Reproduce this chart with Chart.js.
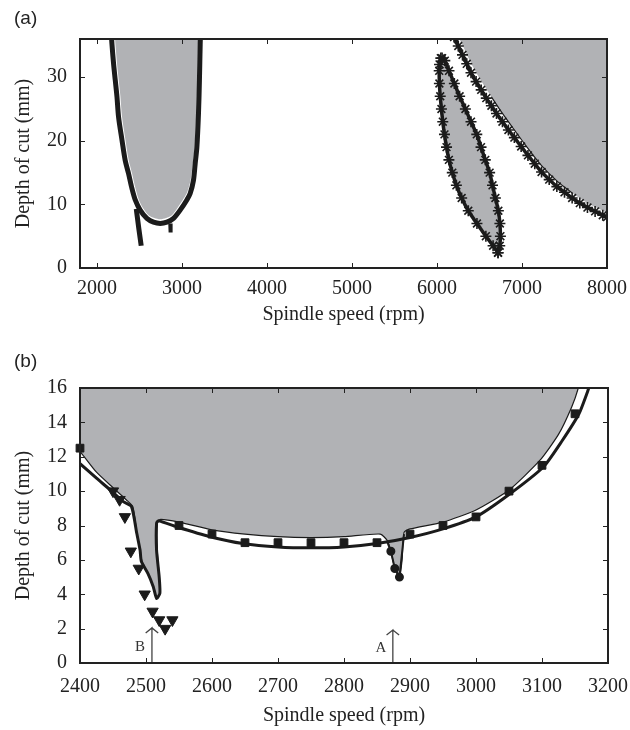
<!DOCTYPE html>
<html>
<head>
<meta charset="utf-8">
<script src="https://cdn.jsdelivr.net/npm/chart.js@4.4.1/dist/chart.umd.min.js"></script>
<style>
  body { margin: 0; background: #fff; }
  #wrap { position: relative; width: 630px; height: 730px; }
  canvas { position: absolute; left: 0; }
  #chartA { top: 0; }
  #chartB { top: 330px; }
  .tag { position: absolute; left: 14px; font: 19px 'Liberation Sans', Arial, sans-serif; line-height: 19px; color: #222; }
</style>
</head>
<body>
<div id="wrap">
  <canvas id="chartA" width="630" height="330"></canvas>
  <canvas id="chartB" width="630" height="400"></canvas>
  <div class="tag" style="top:8px">(a)</div>
  <div class="tag" style="top:351px">(b)</div>
</div>
<script>
// ---- panel (a): whole speed range ----
const aXTicks = [2000, 3000, 4000, 5000, 6000, 7000, 8000];
const aYTicks = [0, 10, 20, 30];

// left lobe, black boundary
const lobeLineX = [2168, 2176, 2195, 2215, 2235, 2254, 2294, 2332, 2371, 2411, 2450, 2508, 2587, 2665, 2744, 2822, 2900, 2978, 3057, 3096, 3135, 3155, 3175, 3194, 3205, 3214, 3218];
const lobeLineY = [37, 35.2, 32.1, 29.5, 26.9, 23.7, 20.1, 16.9, 14.85, 12.5, 10.7, 9.1, 7.8, 7.2, 7.0, 7.2, 7.8, 9.1, 10.7, 11.7, 13.8, 16.4, 19.0, 24.3, 29.5, 35.2, 37];
// left lobe, grey (unstable) region
const lobeFillX = [2208, 2216, 2235, 2255, 2275, 2294, 2334, 2372, 2411, 2451, 2489, 2545, 2610, 2674, 2744, 2813, 2877, 2946, 3023, 3062, 3100, 3127, 3148, 3168, 3180, 3188, 3190];
const lobeFillY = [37, 35.3, 32.2, 29.6, 27.0, 23.8, 20.2, 17.0, 14.95, 12.6, 10.85, 9.34, 8.26, 7.85, 7.65, 7.85, 8.26, 9.44, 11.0, 11.96, 13.8, 16.4, 19.0, 24.3, 29.5, 35.2, 37];
// short tails under the lobe
const tailLeftX = [2462, 2492, 2520];
const tailLeftY = [9.3, 6.2, 3.5];
const tailRightX = [2862, 2866];
const tailRightY = [7.0, 5.6];

// narrow lens lobe near 6000-6750 rpm
const lensLeftX = [6045, 6030, 6026, 6028, 6038, 6052, 6068, 6088, 6112, 6140, 6180, 6228, 6290, 6368, 6470, 6575, 6660, 6718];
const lensLeftY = [33, 32, 31, 29, 27, 25, 23, 21, 19, 17, 15, 13, 11, 9, 7, 5, 3.5, 2.4];
const lensRightX = [6718, 6738, 6746, 6740, 6722, 6687, 6653, 6619, 6568, 6518, 6468, 6400, 6334, 6266, 6204, 6141, 6092, 6060];
const lensRightY = [2.4, 3.5, 5, 7, 9, 11, 13, 15, 17, 19, 21, 23, 25, 27, 29, 31, 32.6, 33];

// big region at high speed
const farLineX = [6200, 6250, 6300, 6350, 6400, 6460, 6520, 6580, 6640, 6700, 6770, 6840, 6910, 6990, 7070, 7150, 7230, 7320, 7410, 7500, 7590, 7680, 7770, 7860, 7950, 8000];
const farLineY = [36.3, 34.9, 33.5, 32.1, 30.7, 29.3, 28.0, 26.7, 25.5, 24.3, 23.0, 21.7, 20.5, 19.1, 17.7, 16.4, 15.1, 13.9, 12.8, 11.9, 11.0, 10.2, 9.5, 8.9, 8.3, 8.0];
const farFillX = [6230, 6300, 6400, 6520, 6640, 6770, 6910, 7070, 7230, 7410, 7590, 7770, 7950, 8000, 8100, 8100, 6230];
const farFillY = [37, 35.0, 32.2, 29.4, 26.9, 24.3, 21.7, 18.8, 16.1, 13.7, 11.8, 10.2, 9.0, 8.7, 8.6, 40, 40];
// thin second boundary along the grey edge
const farEdgeX = [6640, 6770, 6910, 7070, 7230, 7410, 7590];
const farEdgeY = [26.9, 24.3, 21.7, 18.8, 16.1, 13.7, 11.8];

// ---- panel (b): zoom on the first lobe ----
const bXTicks = [2400, 2500, 2600, 2700, 2800, 2900, 3000, 3100, 3200];
const bYTicks = [0, 2, 4, 6, 8, 10, 12, 14, 16];

const zoneX = [2380, 2400, 2425, 2450, 2470, 2480, 2486, 2491, 2494, 2503, 2511, 2516, 2521, 2520, 2517, 2517, 2521, 2550, 2600, 2650, 2700, 2750, 2800, 2855, 2866, 2871, 2877, 2884, 2888, 2891, 2900, 2950, 3000, 3050, 3097, 3125, 3145, 3155, 3162, 3165, 2380];
const zoneY = [13.0, 12.3, 11.1, 10.2, 9.5, 9.1, 7.6, 6.6, 5.9, 5.2, 4.4, 3.8, 4.05, 5.0, 6.6, 8.1, 8.35, 8.2, 7.75, 7.5, 7.35, 7.3, 7.35, 7.5, 7.1, 6.5, 5.5, 5.0, 6.0, 7.6, 7.8, 8.2, 8.9, 10.06, 11.8, 13.3, 14.9, 16.0, 17.2, 18, 18];

const edgeX = [2400, 2425, 2448, 2465, 2478, 2486, 2491, 2493, 2503, 2511, 2516, 2521, 2520, 2516, 2516, 2519, 2546, 2597, 2647, 2700, 2750, 2800, 2850, 2900, 2950, 3000, 3049, 3102, 3130, 3156, 3171, 3178];
const edgeY = [11.6, 10.75, 10.0, 9.4, 9.1, 7.55, 6.57, 5.9, 5.2, 4.44, 3.76, 4.05, 5.0, 6.57, 8.13, 8.28, 7.93, 7.35, 6.95, 6.75, 6.7, 6.75, 6.95, 7.3, 7.8, 8.5, 9.77, 11.4, 12.9, 14.5, 16.0, 16.8];

const squareX = [2400, 2550, 2600, 2650, 2700, 2750, 2800, 2850, 2900, 2950, 3000, 3050, 3100, 3150];
const squareY = [12.5, 8.0, 7.5, 7.0, 7.0, 7.0, 7.0, 7.0, 7.5, 8.0, 8.5, 10.0, 11.5, 14.5];

const triangleX = [2450, 2460, 2468, 2477, 2489, 2498, 2510, 2520, 2529, 2540];
const triangleY = [10.0, 9.5, 8.5, 6.5, 5.5, 4.0, 3.0, 2.5, 2.0, 2.5];

const circleX = [2866, 2871, 2877, 2884, 2891];
const circleY = [7.0, 6.5, 5.5, 5.0, 7.5];
const circleSize = [0, 3.5, 3.5, 3.5, 0];

// arrows marking the test speeds
const arrowBX = [2509, 2509, 2499.5, 2509, 2518.5];
const arrowBY = [0, 2.04, 1.75, 2.04, 1.75];
const arrowAX = [2874, 2874, 2864.5, 2874, 2883.5];
const arrowAY = [0, 1.92, 1.63, 1.92, 1.63];
const arrowTags = ['A', 'B'];
const arrowTagX = [2856, 2491];
const arrowTagY = [0.86, 0.95];

const BLACK = '#1b1b1b';
const GREY = '#b1b2b5';
const SERIF = "'Liberation Serif', 'Times New Roman', serif";

Chart.defaults.font.family = SERIF;
Chart.defaults.color = '#222';

function pts(xs, ys) {
  return xs.map((x, i) => ({ x: x, y: ys[i] }));
}

function curve(xs, ys, width, extra) {
  return Object.assign({
    data: pts(xs, ys), borderColor: BLACK, borderWidth: width,
    pointRadius: 0, tension: 0.3, fill: false, clip: 0, order: 1
  }, extra || {});
}

function region(xs, ys, extra) {
  return Object.assign({
    data: pts(xs, ys), backgroundColor: GREY, borderColor: 'rgba(0,0,0,0)', borderWidth: 0,
    pointRadius: 0, tension: 0.3, fill: 'shape', clip: 0, order: 5
  }, extra || {});
}

const starred = {
  pointStyle: 'star', pointRadius: 5.5, pointBorderWidth: 1.6,
  pointBorderColor: BLACK, pointBackgroundColor: BLACK
};

// box round the plot with ticks pointing inwards on all four sides
const frame = {
  id: 'frame',
  afterDraw(chart) {
    const { ctx, chartArea: a, scales: { x, y } } = chart;
    ctx.save();
    ctx.strokeStyle = '#222';
    ctx.lineWidth = 1;
    ctx.beginPath();
    x.ticks.forEach(t => {
      const px = Math.round(x.getPixelForValue(t.value)) + 0.5;
      ctx.moveTo(px, a.bottom); ctx.lineTo(px, a.bottom - 5);
      ctx.moveTo(px, a.top); ctx.lineTo(px, a.top + 5);
    });
    y.ticks.forEach(t => {
      const py = Math.round(y.getPixelForValue(t.value)) + 0.5;
      ctx.moveTo(a.left, py); ctx.lineTo(a.left + 5, py);
      ctx.moveTo(a.right, py); ctx.lineTo(a.right - 5, py);
    });
    ctx.stroke();
    ctx.lineWidth = 2;
    ctx.strokeRect(a.left, a.top, a.right - a.left, a.bottom - a.top);
    ctx.restore();
  }
};

const tags = {
  id: 'tags',
  afterDatasetsDraw(chart) {
    const { ctx, scales: { x, y } } = chart;
    ctx.save();
    ctx.font = '15px ' + SERIF;
    ctx.fillStyle = '#333';
    ctx.textAlign = 'center';
    ctx.textBaseline = 'middle';
    arrowTags.forEach((t, i) => {
      ctx.fillText(t, x.getPixelForValue(arrowTagX[i]), y.getPixelForValue(arrowTagY[i]));
    });
    ctx.restore();
  }
};

function axes(xMin, xMax, xTicks, yMax, yTicks, xPad, titlePad, xHeight) {
  return {
    x: {
      type: 'linear', min: xMin, max: xMax,
      afterBuildTicks: s => { s.ticks = xTicks.map(v => ({ value: v })); },
      // fixed height, and let the end labels hang over the side padding
      afterFit: s => { s.height = xHeight; s.paddingLeft = 0; s.paddingRight = 0; },
      grid: { display: false, drawTicks: false },
      border: { display: false },
      ticks: { padding: xPad, maxRotation: 0, font: { size: 20 }, color: '#222', callback: v => String(v) },
      title: { display: true, text: 'Spindle speed (rpm)', font: { size: 20 }, color: '#222', padding: { top: 0, bottom: titlePad } }
    },
    y: {
      type: 'linear', min: 0, max: yMax,
      afterBuildTicks: s => { s.ticks = yTicks.map(v => ({ value: v })); },
      afterFit: s => { s.width = 80; s.paddingTop = 0; s.paddingBottom = 0; },
      grid: { display: false, drawTicks: false },
      border: { display: false },
      ticks: { padding: 13, font: { size: 20 }, color: '#222', callback: v => String(v) },
      title: { display: true, text: 'Depth of cut (mm)', font: { size: 20 }, color: '#222', padding: { top: 12, bottom: 0 } }
    }
  };
}

const common = {
  responsive: false,
  animation: false,
  plugins: { legend: { display: false }, tooltip: { enabled: false } }
};

new Chart(document.getElementById('chartA'), {
  type: 'line',
  data: {
    datasets: [
      curve(farLineX, farLineY, 3.5, starred),
      curve(lensLeftX, lensLeftY, 3.5, starred),
      curve(lensRightX, lensRightY, 3.5, starred),
      curve(farEdgeX, farEdgeY, 1.2),
      curve(lobeLineX, lobeLineY, 5),
      curve(tailLeftX, tailLeftY, 5, { tension: 0 }),
      curve(tailRightX, tailRightY, 4, { tension: 0 }),
      region(farFillX, farFillY),
      region(lensLeftX.concat(lensRightX), lensLeftY.concat(lensRightY)),
      region(lobeFillX, lobeFillY)
    ]
  },
  options: Object.assign({}, common, {
    layout: { padding: { left: 0, right: 23, top: 39, bottom: 0 } },
    scales: axes(1800, 8000, aXTicks, 36, aYTicks, 9, 3.5, 62)
  }),
  plugins: [frame]
});

new Chart(document.getElementById('chartB'), {
  type: 'line',
  data: {
    datasets: [
      curve(arrowAX, arrowAY, 1.3, { borderColor: '#444', tension: 0 }),
      curve(arrowBX, arrowBY, 1.3, { borderColor: '#444', tension: 0 }),
      curve(triangleX, triangleY, 0, {
        showLine: false, pointStyle: 'triangle', pointRotation: 180, pointRadius: 6.5,
        pointBackgroundColor: BLACK, pointBorderColor: BLACK, pointBorderWidth: 1
      }),
      curve(squareX, squareY, 0, {
        showLine: false, pointStyle: 'rect', pointRadius: 5.5, clip: 10,
        pointBackgroundColor: BLACK, pointBorderColor: BLACK, pointBorderWidth: 1
      }),
      curve(circleX, circleY, 2, {
        tension: 0, pointStyle: 'circle', pointRadius: circleSize,
        pointBackgroundColor: BLACK, pointBorderColor: BLACK
      }),
      curve(edgeX, edgeY, 3, { tension: 0.2 }),
      region(zoneX, zoneY, { borderColor: BLACK, borderWidth: 1.2, tension: 0.2 })
    ]
  },
  options: Object.assign({}, common, {
    layout: { padding: { left: 0, right: 22, top: 58, bottom: 0 } },
    scales: axes(2400, 3200, bXTicks, 16, bYTicks, 12, 2, 67)
  }),
  plugins: [frame, tags]
});
</script>
</body>
</html>
